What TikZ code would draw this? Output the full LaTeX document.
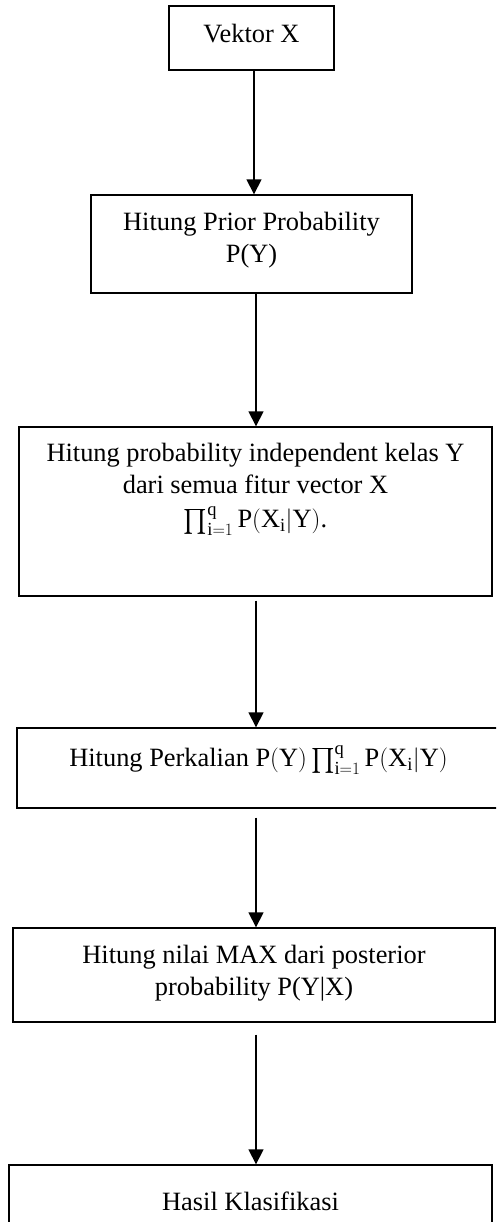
\documentclass[tikz,border=0pt]{standalone}
\usepackage{fontspec}
\setmainfont{Liberation Serif}
\usepackage{amsmath}
\usetikzlibrary{arrows.meta}
\newcommand{\huruf}{\fontsize{26.4}{32}\selectfont}
\newcommand{\peluang}{\prod_{\mathrm{i}=1}^{\mathrm{q}}\mathrm{P}(\mathrm{X}_{\mathrm{i}}|\mathrm{Y})}

\begin{document}
\begin{tikzpicture}[x=1pt,y=-1pt,
    kotak/.style={draw,rectangle,line width=1.4pt,inner sep=0pt},
    teks/.style={font=\huruf,align=center,inner sep=0pt,anchor=north},
    panah/.style={-{Triangle[width=15pt,length=15pt]},line width=1.6pt}]
    \useasboundingbox (0,0) rectangle (496,1222);
    \clip (0,0) rectangle (496,1222);
    \node[kotak,minimum width=165pt,minimum height=64pt] (vektor) at (251.5,38) {};
    \node[kotak,minimum width=321pt,minimum height=98pt] (prior) at (251.5,244) {};
    \node[kotak,minimum width=473pt,minimum height=169pt] (independen) at (255.5,511.5) {};
    \node[kotak,minimum width=483pt,minimum height=80pt] (perkalian) at (258.5,768) {};
    \node[kotak,minimum width=482pt,minimum height=94pt] (posterior) at (254,975) {};
    \node[kotak,minimum width=483pt,minimum height=95pt] (hasil) at (250.5,1212.5) {};
    \node[teks] at ([yshift=-19pt]vektor.north) {Vektor X};
    \node[teks] at ([yshift=-18pt]prior.north) {Hitung Prior Probability\\P(Y)};
    \node[teks] at ([yshift=-17pt]independen.north) {Hitung probability independent kelas Y\\dari semua fitur vector X\\[2pt]$\peluang$.};
    \node[teks] at ([yshift=-18pt]perkalian.north) {Hitung Perkalian $\mathrm{P}(\mathrm{Y})\peluang$};
    \node[teks] at ([yshift=-18pt]posterior.north) {Hitung nilai MAX dari posterior\\probability P(Y|X)};
    \node[teks] at ([yshift=-27pt]hasil.north) {Hasil Klasifikasi};
    \draw[panah] ([xshift=2.5pt]vektor.south) -- ([xshift=2.5pt]vektor.south |- prior.north);
    \draw[panah] ([xshift=4.5pt]prior.south) -- ([xshift=4.5pt]prior.south |- independen.north);
    \draw[panah] ([xshift=0.5pt,yshift=-4pt]independen.south) -- ([xshift=0.5pt]independen.south |- perkalian.north);
    \draw[panah] ([xshift=-2.5pt,yshift=-9pt]perkalian.south) -- ([xshift=-2.5pt]perkalian.south |- posterior.north);
    \draw[panah] ([xshift=2pt,yshift=-12pt]posterior.south) -- ([xshift=2pt]posterior.south |- hasil.north);
\end{tikzpicture}
\end{document}
